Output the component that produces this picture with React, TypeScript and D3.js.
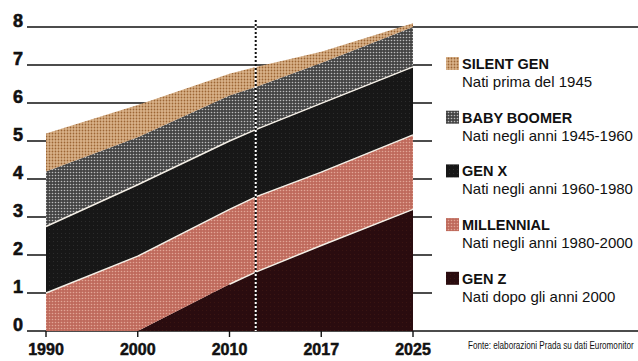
import { useRef, useLayoutEffect } from "react";
import * as d3 from "d3";

// anni dei punti (miliardi di persone)
const years = [1990, 2000, 2010, 2012, 2017, 2025];
const genZ = [0, 0, 1.23, 1.55, 2.25, 3.2];
const millennial = [1.0, 1.97, 1.97, 1.98, 1.93, 1.96];
const genX = [1.75, 1.88, 1.8, 1.77, 1.81, 1.79];
const babyBoomer = [1.45, 1.25, 1.2, 1.12, 1.06, 1.05];
const silentGen = [1.0, 0.85, 0.57, 0.53, 0.3, 0.1];

const tickLabels = ["1990", "2000", "2010", "2017", "2025"];
const yTicks = [0, 1, 2, 3, 4, 5, 6, 7, 8];
const markYear = 2012;

const legendTitles = ["SILENT GEN", "BABY BOOMER", "GEN X", "MILLENNIAL", "GEN Z"];
const legendNotes = [
  "Nati prima del 1945",
  "Nati negli anni 1945-1960",
  "Nati negli anni 1960-1980",
  "Nati negli anni 1980-2000",
  "Nati dopo gli anni 2000",
];
const source = "Fonte: elaborazioni Prada su dati Euromonitor";

const keys = ["genZ", "millennial", "genX", "babyBoomer", "silentGen"];
const fills = {
  silentGen: "url(#pSilent)",
  babyBoomer: "url(#pBoomer)",
  genX: "url(#pGenX)",
  millennial: "url(#pMill)",
  genZ: "url(#pGenZ)",
};
const legendKeys = ["silentGen", "babyBoomer", "genX", "millennial", "genZ"];

const W = 638;
const H = 361;
const sans = "'Liberation Sans', Arial, sans-serif";

export default function App() {
  const srcRef = useRef<SVGTextElement>(null);

  // la fonte è molto condensata: la stringo fino a 166px
  useLayoutEffect(() => {
    const el = srcRef.current;
    if (!el) return;
    const w = el.getComputedTextLength();
    const k = Math.min(1, 166 / w);
    d3.select(el).attr("transform", `translate(468,349) scale(${k},1)`);
  }, []);

  const rows = years.map((y, i) => ({
    year: y,
    genZ: genZ[i],
    millennial: millennial[i],
    genX: genX[i],
    babyBoomer: babyBoomer[i],
    silentGen: silentGen[i],
  }));
  const series = d3.stack().keys(keys)(rows as any);

  const xPoint = d3.scalePoint().domain(tickLabels).range([46, 413]);
  const x = d3
    .scaleLinear()
    .domain(tickLabels.map(Number))
    .range(tickLabels.map((t) => xPoint(t) as number));
  const y = d3.scaleLinear().domain([0, 8]).range([331, 27]);

  const area = d3
    .area<any>()
    .x((d) => x(d.data.year))
    .y0((d) => y(d[0]))
    .y1((d) => y(d[1]));

  const topLine = d3
    .line<any>()
    .defined((d) => d[1] > 0.001)
    .x((d) => x(d.data.year))
    .y((d) => y(d[1]));

  const mx = x(markYear);

  return (
    <svg
      width={W}
      height={H}
      style={{ position: "absolute", left: 0, top: 0, background: "#fff" }}
    >
      <defs>
        <pattern id="pSilent" width="3" height="3" patternUnits="userSpaceOnUse">
          <rect width="3" height="3" fill="#dab38a" />
          <circle cx="1.5" cy="1.5" r="0.9" fill="#9c6534" />
        </pattern>
        <pattern id="pBoomer" width="3" height="3" patternUnits="userSpaceOnUse">
          <rect width="3" height="3" fill="#444" />
          <circle cx="1.5" cy="1.5" r="0.8" fill="#bdbdbd" />
        </pattern>
        <pattern id="pGenX" width="4" height="4" patternUnits="userSpaceOnUse">
          <rect width="4" height="4" fill="#171717" />
          <rect x="1" y="1" width="1" height="1" fill="#2c2c2c" />
        </pattern>
        <pattern id="pMill" width="3" height="3" patternUnits="userSpaceOnUse">
          <rect width="3" height="3" fill="#bf6a5c" />
          <circle cx="1.5" cy="1.5" r="0.8" fill="#e2a595" />
        </pattern>
        <pattern id="pGenZ" width="4" height="4" patternUnits="userSpaceOnUse">
          <rect width="4" height="4" fill="#2a0c0f" />
          <rect x="2" y="2" width="1" height="1" fill="#3a1512" />
        </pattern>
      </defs>

      {/* griglia */}
      {yTicks.map((t) => (
        <line
          key={t}
          x1={27}
          x2={t === 0 || t === 8 ? W : 432}
          y1={y(t)}
          y2={y(t)}
          stroke="#111"
          strokeWidth={1.4}
        />
      ))}
      {yTicks.map((t) => (
        <text
          key={"l" + t}
          x={23}
          y={y(t)}
          textAnchor="end"
          fontFamily={sans}
          fontWeight="bold"
          fontSize={18}
          fill="#111"
          stroke="#111"
          strokeWidth={0.6}
        >
          {t}
        </text>
      ))}

      {/* aree */}
      {series.map((s: any) => (
        <path key={s.key} d={area(s) as string} fill={(fills as any)[s.key]} />
      ))}
      {series.slice(0, 3).map((s: any) => (
        <path
          key={"t" + s.key}
          d={topLine(s) as string}
          fill="none"
          stroke="#f4efe6"
          strokeWidth={1.5}
        />
      ))}

      {/* asse x */}
      {tickLabels.map((t) => (
        <g key={t} transform={`translate(${xPoint(t)},0)`}>
          <line y1={331} y2={337} stroke="#111" strokeWidth={1.4} />
          <text
            y={355}
            textAnchor="middle"
            fontFamily={sans}
            fontWeight="bold"
            fontSize={16}
            fill="#111"
            stroke="#111"
            strokeWidth={0.5}
          >
            {t}
          </text>
        </g>
      ))}

      {/* linea tratteggiata */}
      <line x1={mx} x2={mx} y1={20} y2={331} stroke="#fff" strokeWidth={2} strokeDasharray="2 2" strokeDashoffset={2} />
      <line x1={mx} x2={mx} y1={20} y2={331} stroke="#111" strokeWidth={2} strokeDasharray="2 2" />

      {/* legenda */}
      {legendKeys.map((k, i) => {
        const by = 69 + i * 53.7;
        return (
          <g key={k}>
            <rect x={446} y={by - 12} width={13} height={13} fill={(fills as any)[k]} />
            <text x={462} y={by} fontFamily={sans} fontWeight="bold" fontSize={14.5} fill="#111">
              {legendTitles[i]}
            </text>
            <text x={462} y={by + 18} fontFamily={sans} fontSize={15} fill="#111">
              {legendNotes[i]}
            </text>
          </g>
        );
      })}

      <text ref={srcRef} transform="translate(468,349)" fontFamily={sans} fontSize={11} fill="#111">
        {source}
      </text>
    </svg>
  );
}
